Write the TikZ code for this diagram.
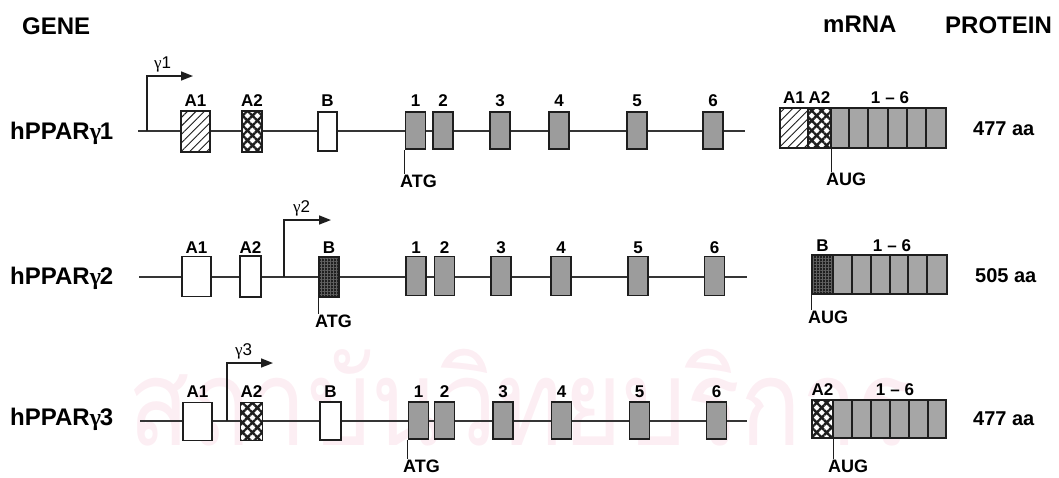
\documentclass[tikz,border=0pt]{standalone}
\usepackage{fontspec}
\setmainfont{Liberation Sans}
\newfontfamily\gfont{Liberation Serif}
\newfontfamily\thaifont[Script=Thai]{Loma}
\usetikzlibrary{arrows.meta,patterns.meta}
\definecolor{exgray}{RGB}{156,156,156}
\definecolor{mgray}{RGB}{166,166,166}
\definecolor{inkc}{RGB}{30,30,30}
\definecolor{wmpink}{RGB}{252,238,243}
\newcommand{\gam}{{\gfont γ}}
\tikzset{
  gline/.style={line width=1.4pt, draw=inkc!90},
  exbox/.style={rectangle, draw=inkc, line width=1.6pt, inner sep=0pt, minimum width=20pt, minimum height=38pt},
  exon/.style={exbox, fill=exgray},
  whitebox/.style={exbox, fill=white},
  hatchbox/.style={exbox, preaction={fill=white}, pattern={Lines[angle=45,distance=6pt,line width=1pt]}, pattern color=inkc},
  meshbox/.style={exbox, preaction={fill=white}, pattern={Hatch[angle=45,distance=7pt,line width=2.4pt]}, pattern color=inkc},
  darkbox/.style={exbox, preaction={fill=black!88}, pattern={Hatch[angle=0,distance=3pt,line width=0.4pt]}, pattern color=black!62},
  mseg/.style={rectangle, draw=inkc, line width=1.6pt, inner sep=0pt},
  hdr/.style={font=\fontsize{24}{24}\selectfont\bfseries, inner sep=0pt, anchor=base west},
  rowlab/.style={font=\fontsize{24}{24}\selectfont\bfseries, inner sep=0pt, anchor=base west},
  lab/.style={font=\fontsize{17}{17}\selectfont\bfseries, inner sep=0pt, anchor=base},
  codon/.style={font=\fontsize{18}{18}\selectfont\bfseries, inner sep=0pt, anchor=base west},
  aa/.style={font=\fontsize{20}{20}\selectfont\bfseries, inner sep=0pt, anchor=base west},
  gamlab/.style={font=\fontsize{17}{17}\selectfont, inner sep=0pt, anchor=base west},
  promoter/.style={line width=1.6pt, draw=inkc, -{Triangle[length=12pt,width=9pt]}},
  tick/.style={line width=1.2pt, draw=inkc}
}
\begin{document}
\begin{tikzpicture}[x=1pt,y=-1pt]
\useasboundingbox (0,0) rectangle (1059,477);
\clip (0,0) rectangle (1059,477);

% faint library watermark
\node[text=wmpink, font=\thaifont\fontsize{120}{120}\selectfont, inner sep=0pt, anchor=base west, xscale=0.84] (wm) at (128,445) {สถาบันวิทยบริการ};

% column headers
\node[hdr] (hgene) at (22,34) {GENE};
\node[hdr] (hmrna) at (823,32) {mRNA};
\node[hdr] (hprot) at (945,33) {PROTEIN};

% ---------------- hPPARgamma1 ----------------
\node[rowlab] (r1) at (10,139) {hPPAR\gam\kern-1pt1};
\coordinate (g1s) at (138,131);
\coordinate (g1e) at (745,131);
\draw[gline] (g1s) -- (g1e);
\coordinate (p1) at (147,131);
\coordinate (p1t) at (193,76);
\draw[promoter] (p1) |- (p1t);
\node[gamlab] (g1lab) at (154,68) {\gam1};
\node[hatchbox, minimum width=29pt, minimum height=41pt] (a11) at (195.5,131.5) {};
\node[meshbox, minimum width=20pt, minimum height=41pt] (a21) at (252,131.5) {};
\node[whitebox, minimum width=19pt, minimum height=39pt] (b1) at (327.5,131.5) {};
\foreach \c [count=\i] in {415.5,443,500,559,637,713}
  \node[exon, minimum height=37pt] (e1\i) at (\c,130.5) {};
\node[lab] at (a11.center |- 0,106.5) {A1};
\node[lab] at (a21.center |- 0,106.5) {A2};
\node[lab] at (b1.center |- 0,106.5) {B};
\foreach \i in {1,...,6}
  \node[lab] at (e1\i.center |- 0,106.5) {\i};
\node[codon] (atg1) at (400,187) {ATG};
\draw[tick] (e11.south west) -- (e11.south west |- atg1.north);

% mRNA 1
\node[mseg, pattern={Lines[angle=45,distance=6pt,line width=1pt]}, pattern color=inkc, preaction={fill=white}, minimum width=28pt, minimum height=40pt] (m1a1) at (794,128) {};
\node[mseg, pattern={Hatch[angle=45,distance=7pt,line width=2.4pt]}, pattern color=inkc, preaction={fill=white}, minimum width=23pt, minimum height=40pt] (m1a2) at (819.5,128) {};
\foreach \a/\b [count=\i] in {831/849,849/868,868/888,888/907,907/926,926/946}
  \node[mseg, fill=mgray, minimum width=\b-\a, minimum height=40pt] (m1g\i) at ({(\a+\b)/2},128) {};
\node[lab] at (m1a1.center |- 0,103) {A1};
\node[lab] at (m1a2.center |- 0,103) {A2};
\node[lab] at (890,103) {1\hspace{5pt}–\hspace{5pt}6};
\node[codon] (aug1) at (826,185) {AUG};
\draw[tick] (m1a2.south east) -- (m1a2.south east |- aug1.north);
\node[aa] (pr1) at (973,135) {477 aa};

% ---------------- hPPARgamma2 ----------------
\node[rowlab] (r2) at (10,284) {hPPAR\gam\kern-1pt2};
\coordinate (g2s) at (139,277);
\coordinate (g2e) at (747,277);
\draw[gline] (g2s) -- (g2e);
\coordinate (p2) at (284,277);
\coordinate (p2t) at (331,220);
\draw[promoter] (p2) |- (p2t);
\node[gamlab] (g2lab) at (293,212) {\gam2};
\node[whitebox, minimum width=29pt, minimum height=40pt] (a12) at (196.5,276.5) {};
\node[whitebox, minimum width=21pt, minimum height=41pt] (a22) at (250.5,276.5) {};
\node[darkbox, minimum width=20pt, minimum height=40pt] (b2) at (329,277) {};
\foreach \c [count=\i] in {416,444.5,501,561,638,714.5}
  \node[exon, minimum height=39pt] (e2\i) at (\c,276) {};
\node[lab] at (a12.center |- 0,253) {A1};
\node[lab] at (a22.center |- 0,253) {A2};
\node[lab] at (b2.center |- 0,253) {B};
\foreach \i in {1,...,6}
  \node[lab] at (e2\i.center |- 0,253) {\i};
\node[codon] (atg2) at (315,327) {ATG};
\draw[tick] (b2.south west) -- (b2.south west |- atg2.north);

% mRNA 2
\node[mseg, preaction={fill=black!88}, pattern={Hatch[angle=0,distance=3pt,line width=0.4pt]}, pattern color=black!62, minimum width=21pt, minimum height=39pt] (m2b) at (822.5,274.5) {};
\foreach \a/\b [count=\i] in {833/852,852/871,871/890,890/908,908/927,927/947}
  \node[mseg, fill=mgray, minimum width=\b-\a, minimum height=39pt] (m2g\i) at ({(\a+\b)/2},274.5) {};
\node[lab] at (m2b.center |- 0,251) {B};
\node[lab] at (892,251) {1\hspace{5pt}–\hspace{5pt}6};
\node[codon] (aug2) at (808,323) {AUG};
\draw[tick] (m2b.south west) -- (m2b.south west |- aug2.north);
\node[aa] (pr2) at (975,282) {505 aa};

% ---------------- hPPARgamma3 ----------------
\node[rowlab] (r3) at (10,425) {hPPAR\gam\kern-1pt3};
\coordinate (g3s) at (140,421);
\coordinate (g3e) at (747,421);
\draw[gline] (g3s) -- (g3e);
\coordinate (p3) at (227,421);
\coordinate (p3t) at (273,363);
\draw[promoter] (p3) |- (p3t);
\node[gamlab] (g3lab) at (235,355) {\gam3};
\node[whitebox, minimum width=29pt, minimum height=38pt] (a13) at (197.5,421.5) {};
\node[meshbox, minimum width=22pt, minimum height=38pt] (a23) at (251.5,421.5) {};
\node[whitebox, minimum width=21pt, minimum height=38pt] (b3) at (330.5,421) {};
\foreach \c [count=\i] in {418.5,444.5,503,561.5,639.5,716.5}
  \node[exon, minimum height=37pt] (e3\i) at (\c,420.5) {};
\node[lab] at (a13.center |- 0,397) {A1};
\node[lab] at (a23.center |- 0,397) {A2};
\node[lab] at (b3.center |- 0,397) {B};
\foreach \i in {1,...,6}
  \node[lab] at (e3\i.center |- 0,397) {\i};
\node[codon] (atg3) at (403,472) {ATG};
\draw[tick] (e31.south west) -- (e31.south west |- atg3.north);

% mRNA 3
\node[mseg, pattern={Hatch[angle=45,distance=7pt,line width=2.4pt]}, pattern color=inkc, preaction={fill=white}, minimum width=21pt, minimum height=38pt] (m3a2) at (822.5,419) {};
\foreach \a/\b [count=\i] in {833/852,852/871,871/890,890/909,909/928,928/946}
  \node[mseg, fill=mgray, minimum width=\b-\a, minimum height=38pt] (m3g\i) at ({(\a+\b)/2},419) {};
\node[lab] at (m3a2.center |- 0,395) {A2};
\node[lab] at (895,395) {1\hspace{5pt}–\hspace{5pt}6};
\node[codon] (aug3) at (828,472) {AUG};
\draw[tick] (m3a2.south east) -- (m3a2.south east |- aug3.north);
\node[aa] (pr3) at (973,425) {477 aa};
\end{tikzpicture}
\end{document}
